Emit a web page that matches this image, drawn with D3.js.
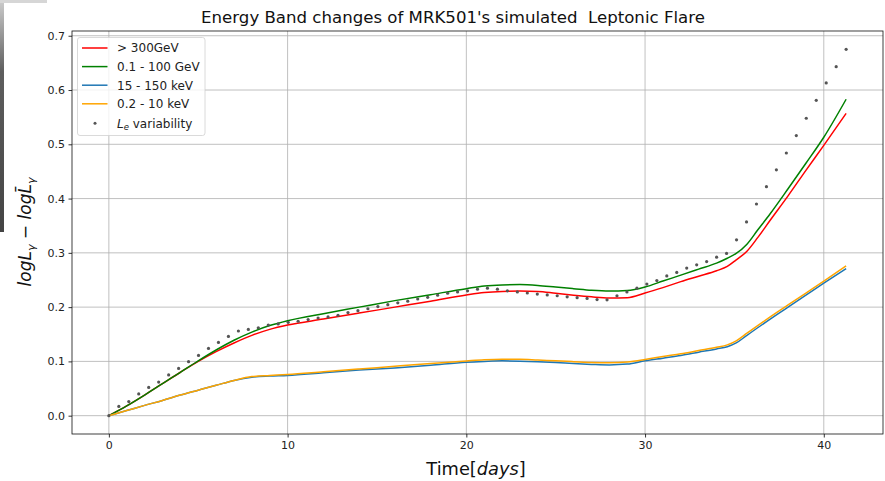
<!DOCTYPE html>
<html>
<head>
<meta charset="utf-8">
<script src="https://cdn.jsdelivr.net/npm/d3@7"></script>
<style>
  html, body { margin: 0; padding: 0; background: #fff; }
  svg { display: block; font-family: "DejaVu Sans", sans-serif; }
</style>
</head>
<body>
<svg id="chart" width="885" height="481"></svg>
<script>
// knots of the band curves (days)
const knotDays = [0, 1, 2, 3, 4, 5, 6, 7, 8, 9, 10, 12, 14, 16, 18, 20, 21, 22, 23, 24, 25, 26, 27, 28, 29, 30, 31, 32, 33, 34, 34.6, 35.1, 35.7, 36.3, 37, 38, 39, 40, 41.25];

const tevValues = [0, 0.018, 0.038, 0.059, 0.080, 0.100, 0.118, 0.134, 0.148, 0.159, 0.167, 0.178, 0.189, 0.2, 0.211, 0.2225, 0.227, 0.229, 0.2295, 0.229, 0.2255, 0.222, 0.219, 0.217, 0.2175, 0.226, 0.236, 0.247, 0.257, 0.267, 0.275, 0.287, 0.303, 0.328, 0.360, 0.405, 0.452, 0.498, 0.557];
const gevValues = [0, 0.018, 0.038, 0.059, 0.080, 0.101, 0.121, 0.139, 0.154, 0.166, 0.175, 0.188, 0.200, 0.212, 0.223, 0.234, 0.239, 0.241, 0.2415, 0.240, 0.237, 0.234, 0.231, 0.2295, 0.2305, 0.237, 0.248, 0.259, 0.270, 0.281, 0.290, 0.299, 0.316, 0.342, 0.372, 0.418, 0.465, 0.513, 0.583];
const batValues = [0, 0.0094, 0.019, 0.028, 0.038, 0.047, 0.056, 0.065, 0.071, 0.073, 0.074, 0.079, 0.084, 0.088, 0.093, 0.0985, 0.100, 0.101, 0.1005, 0.0995, 0.098, 0.096, 0.0945, 0.0935, 0.095, 0.101, 0.106, 0.111, 0.117, 0.123, 0.127, 0.134, 0.148, 0.162, 0.178, 0.200, 0.222, 0.244, 0.271];
const xrtValues = [0, 0.0094, 0.019, 0.028, 0.038, 0.047, 0.056, 0.065, 0.072, 0.074, 0.076, 0.081, 0.086, 0.091, 0.096, 0.1008, 0.103, 0.104, 0.104, 0.1025, 0.101, 0.0995, 0.098, 0.0975, 0.099, 0.1035, 0.109, 0.114, 0.120, 0.126, 0.1305, 0.138, 0.152, 0.166, 0.182, 0.204, 0.226, 0.248, 0.276];

// electron luminosity variability (dots)
const dotDays = [0, 0.557, 1.115, 1.672, 2.23, 2.787, 3.345, 3.902, 4.459, 5.017, 5.574, 6.132, 6.689, 7.247, 7.804, 8.361, 8.919, 9.476, 10.034, 10.591, 11.149, 11.706, 12.264, 12.821, 13.378, 13.936, 14.493, 15.051, 15.608, 16.166, 16.723, 17.28, 17.838, 18.395, 18.953, 19.51, 20.068, 20.625, 21.182, 21.74, 22.297, 22.855, 23.412, 23.97, 24.527, 25.084, 25.642, 26.199, 26.757, 27.314, 27.872, 28.429, 28.986, 29.544, 30.101, 30.659, 31.216, 31.774, 32.331, 32.889, 33.446, 34.003, 34.561, 35.118, 35.676, 36.233, 36.791, 37.348, 37.905, 38.463, 39.02, 39.578, 40.135, 40.693, 41.25];
const dotValues = [0, 0.017, 0.026, 0.040, 0.052, 0.062, 0.075, 0.087, 0.0995, 0.111, 0.124, 0.135, 0.146, 0.156, 0.159, 0.162, 0.167, 0.169, 0.172, 0.174, 0.177, 0.180, 0.182, 0.185, 0.190, 0.1935, 0.197, 0.201, 0.2046, 0.208, 0.211, 0.215, 0.218, 0.222, 0.2256, 0.228, 0.230, 0.233, 0.235, 0.233, 0.230, 0.228, 0.226, 0.224, 0.2225, 0.221, 0.219, 0.2175, 0.216, 0.214, 0.2135, 0.221, 0.228, 0.235, 0.2425, 0.249, 0.2575, 0.264, 0.272, 0.278, 0.284, 0.292, 0.299, 0.324, 0.357, 0.390, 0.422, 0.453, 0.484, 0.516, 0.548, 0.581, 0.613, 0.643, 0.675];

const seriesNames = ["> 300GeV", "0.1 - 100 GeV", "15 - 150 keV", "0.2 - 10 keV"];
const seriesColors = ["#ff0000", "#008000", "#1f77b4", "#ffa500"];
const seriesValues = [tevValues, gevValues, batValues, xrtValues];

const xTicks = [0, 10, 20, 30, 40];
const yTicks = [0.0, 0.1, 0.2, 0.3, 0.4, 0.5, 0.6, 0.7];

const titleText = "Energy Band changes of MRK501's simulated  Leptonic Flare";

const plot = { left: 72, right: 883, top: 31, bottom: 434 };

const scale = {
	x: d3.scaleLinear().domain([-2.0625, 43.3125]).range([plot.left, plot.right]),
	y: d3.scaleLinear().domain([-0.03375, 0.70875]).range([plot.bottom, plot.top])
};

const $svg = d3.select("#chart");

// grey window edge seen at the left of the screenshot
const grad = $svg.append("defs").append("linearGradient")
	.attr("id", "edge").attr("x1", 0).attr("y1", 0).attr("x2", 0).attr("y2", 1);
grad.append("stop").attr("offset", "0%").attr("stop-color", "#c8c8c8");
grad.append("stop").attr("offset", "30%").attr("stop-color", "#5e5e5e");
grad.append("stop").attr("offset", "100%").attr("stop-color", "#444");
$svg.append("rect").attr("x", 0).attr("y", 0).attr("width", 47).attr("height", 3).attr("fill", "#d6d6d6");
$svg.append("rect").attr("x", 0).attr("y", 3).attr("width", 4).attr("height", 229).attr("fill", "url(#edge)");

// grid
const $grid = $svg.append("g");
$grid.selectAll(".gx").data(xTicks).enter().append("line")
	.attr("x1", (d) => scale.x(d)).attr("x2", (d) => scale.x(d))
	.attr("y1", plot.top).attr("y2", plot.bottom)
	.attr("stroke", "#b0b0b0").attr("stroke-width", 0.8);
$grid.selectAll(".gy").data(yTicks).enter().append("line")
	.attr("x1", plot.left).attr("x2", plot.right)
	.attr("y1", (d) => scale.y(d)).attr("y2", (d) => scale.y(d))
	.attr("stroke", "#b0b0b0").attr("stroke-width", 0.8);

// band curves
const lineBuilder = d3.line()
	.x((d) => scale.x(d[0]))
	.y((d) => scale.y(d[1]))
	.curve(d3.curveMonotoneX);

seriesValues.forEach((vals, i) => {
	$svg.append("path")
		.attr("d", lineBuilder(knotDays.map((t, j) => [t, vals[j]])))
		.attr("fill", "none")
		.attr("stroke", seriesColors[i])
		.attr("stroke-width", 1.5);
});

// dots
$svg.append("g").selectAll("circle")
	.data(dotDays.map((t, j) => [t, dotValues[j]]))
	.enter().append("circle")
	.attr("cx", (d) => scale.x(d[0]))
	.attr("cy", (d) => scale.y(d[1]))
	.attr("r", 1.6)
	.attr("fill", "#555");

// axes
const xAxis = d3.axisBottom(scale.x).tickValues(xTicks).tickFormat(d3.format("d")).tickSize(3.5).tickPadding(3.5);
const yAxis = d3.axisLeft(scale.y).tickValues(yTicks).tickFormat(d3.format(".1f")).tickSize(3.5).tickPadding(3.5);

const $xa = $svg.append("g").attr("transform", `translate(0,${plot.bottom})`).call(xAxis);
const $ya = $svg.append("g").attr("transform", `translate(${plot.left},0)`).call(yAxis);
[$xa, $ya].forEach(($a) => {
	$a.select(".domain").remove();
	$a.selectAll(".tick line").attr("stroke", "#000").attr("stroke-width", 0.8);
	$a.selectAll(".tick text").attr("fill", "#222").attr("font-size", 11).attr("font-family", "DejaVu Sans");
});

// frame
$svg.append("rect")
	.attr("x", plot.left).attr("y", plot.top)
	.attr("width", plot.right - plot.left).attr("height", plot.bottom - plot.top)
	.attr("fill", "none").attr("stroke", "#111").attr("stroke-width", 0.8);

// title
$svg.append("text")
	.attr("x", 453).attr("y", 23)
	.attr("text-anchor", "middle").attr("font-size", 16.6).attr("fill", "#111")
	.style("white-space", "pre")
	.text(titleText);

// x label
const $xl = $svg.append("text")
	.attr("x", 476).attr("y", 475)
	.attr("text-anchor", "middle").attr("font-size", 17.8).attr("fill", "#111");
$xl.append("tspan").text("Time[");
$xl.append("tspan").attr("font-style", "italic").text("days");
$xl.append("tspan").text("]");

// y label
const $yl = $svg.append("text")
	.attr("transform", "translate(31,232) rotate(-90)")
	.attr("text-anchor", "middle").attr("font-size", 17).attr("fill", "#111");
$yl.append("tspan").attr("font-style", "italic").text("logL");
$yl.append("tspan").attr("font-style", "italic").attr("font-size", 11).attr("dy", 4).text("γ");
$yl.append("tspan").attr("dy", -4).text(" − ");
$yl.append("tspan").attr("font-style", "italic").text("log");
$yl.append("tspan").attr("font-style", "italic").text("L\u0304");
$yl.append("tspan").attr("font-style", "italic").attr("font-size", 11).attr("dy", 4).text("γ");

// legend
const legend = { x: 77.5, y: 37.5, w: 127.5, h: 98, row: 18.6 };
const $lg = $svg.append("g");
$lg.append("rect")
	.attr("x", legend.x).attr("y", legend.y).attr("width", legend.w).attr("height", legend.h)
	.attr("rx", 2.5).attr("fill", "#fff").attr("fill-opacity", 0.8)
	.attr("stroke", "#d0d0d0").attr("stroke-width", 0.8);

seriesNames.forEach((name, i) => {
	const cy = legend.y + 10.5 + i * legend.row;
	$lg.append("line")
		.attr("x1", legend.x + 4.5).attr("x2", legend.x + 30)
		.attr("y1", cy).attr("y2", cy)
		.attr("stroke", seriesColors[i]).attr("stroke-width", 1.5);
	$lg.append("text")
		.attr("x", legend.x + 39.5).attr("y", cy + 4.3)
		.attr("font-size", 12).attr("fill", "#222")
		.text(name);
});
const dotRowY = legend.y + 10.5 + 4 * legend.row + 0.8;
$lg.append("circle").attr("cx", legend.x + 17.5).attr("cy", dotRowY).attr("r", 1.5).attr("fill", "#555");
const $dl = $lg.append("text").attr("x", legend.x + 39.5).attr("y", dotRowY + 4.3).attr("font-size", 12).attr("fill", "#222");
$dl.append("tspan").attr("font-style", "italic").text("L");
$dl.append("tspan").attr("font-style", "italic").attr("font-size", 8.5).attr("dy", 2.5).text("e");
$dl.append("tspan").attr("dy", -2.5).text(" variability");
</script>
</body>
</html>
